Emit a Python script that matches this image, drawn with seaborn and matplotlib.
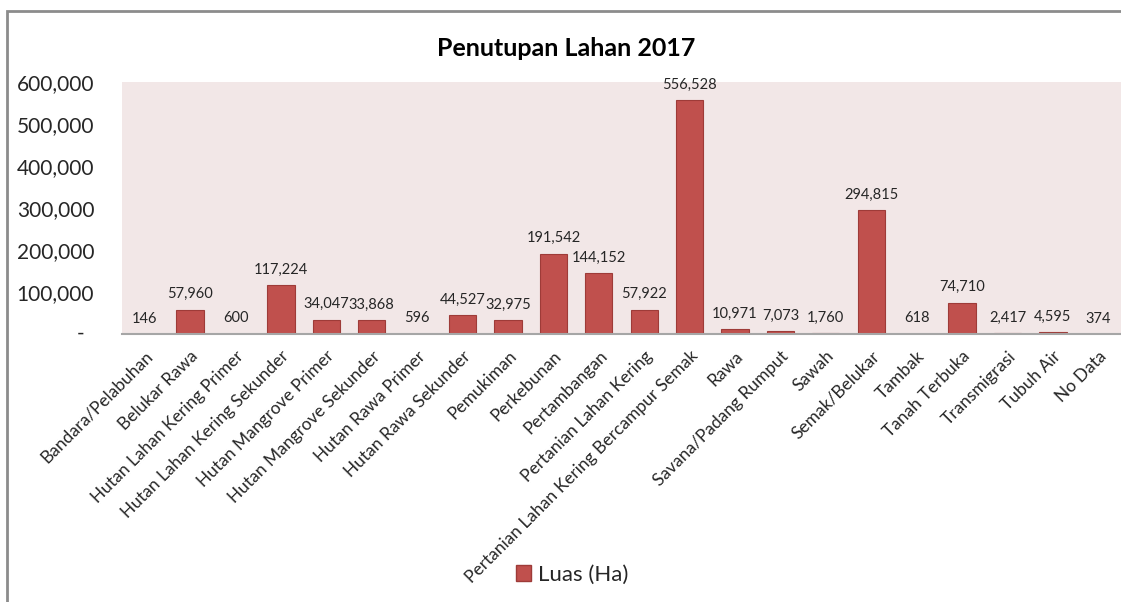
import pandas as pd
import seaborn as sns
import matplotlib.pyplot as plt
from matplotlib.patches import Patch, Rectangle
from matplotlib.ticker import FuncFormatter
from matplotlib.transforms import blended_transform_factory

sns.set_style("white")
plt.rcParams.update({
    "font.family": ["Lato", "DejaVu Sans"],
})

categories = [
    "Bandara/Pelabuhan", "Belukar Rawa", "Hutan Lahan Kering Primer",
    "Hutan Lahan Kering Sekunder", "Hutan Mangrove Primer",
    "Hutan Mangrove Sekunder", "Hutan Rawa Primer", "Hutan Rawa Sekunder",
    "Pemukiman", "Perkebunan", "Pertambangan", "Pertanian Lahan Kering",
    "Pertanian Lahan Kering Bercampur Semak", "Rawa", "Savana/Padang Rumput",
    "Sawah", "Semak/Belukar", "Tambak", "Tanah Terbuka", "Transmigrasi",
    "Tubuh Air", "No Data",
]
luas = [
    146, 57960, 600, 117224, 34047, 33868, 596, 44527, 32975, 191542,
    144152, 57922, 556528, 10971, 7073, 1760, 294815, 618, 74710, 2417,
    4595, 374,
]
series_name = "Luas (Ha)"
title = "Penutupan Lahan 2017"
yticks = [0, 100000, 200000, 300000, 400000, 500000, 600000]

df = pd.DataFrame({"Kategori": categories, series_name: luas})

bar_color = "#C0504D"
W, H = 1121, 602
fig = plt.figure(figsize=(W / 100, H / 100), dpi=100)
ax = fig.add_axes([122 / W, 1 - 334 / H, (W - 122) / W, (334 - 82) / H])
ax.set_facecolor("#F2E7E7")

sns.barplot(data=df, x="Kategori", y=series_name, ax=ax, color=bar_color,
            width=0.6, edgecolor="#9E3B38", linewidth=0.8, saturation=1)

ax.bar_label(ax.containers[0], labels=[f"{v:,}" for v in luas],
             padding=6, fontsize=10.5, color="#262626")

ax.set_ylim(0, 600000)
ax.set_xlim(-0.5, len(categories) - 0.5)
ax.set_yticks(yticks)
# accounting style: zero shown as a dash, a bit left of the numbers
ax.yaxis.set_major_formatter(FuncFormatter(lambda v, p: "" if v == 0 else f"{v:,.0f}"))
ax.text(81 / W, 0, "-", transform=blended_transform_factory(fig.transFigure, ax.transData),
        ha="center", va="center", fontsize=15, color="#262626")
ax.tick_params(axis="y", length=0, labelsize=15, pad=20, colors="#262626")
ax.tick_params(axis="x", length=0, labelsize=12.5, pad=10, colors="#262626")
plt.setp(ax.get_xticklabels(), rotation=45, ha="right", rotation_mode="anchor")
ax.set_xlabel("")
ax.set_ylabel("")

for s in ["top", "right", "left"]:
    ax.spines[s].set_visible(False)
ax.spines["bottom"].set_color("#A6A6A6")
ax.spines["bottom"].set_linewidth(1.5)

fig.text(566 / W, 1 - 48 / H, title, ha="center", va="center",
         fontsize=18, fontweight="bold", color="black")

handle = Patch(facecolor=bar_color, edgecolor="#9E3B38", label=series_name)
fig.legend(handles=[handle], loc="center", bbox_to_anchor=(572 / W, 1 - 575 / H),
           frameon=False, fontsize=16, handlelength=0.7, handleheight=0.7,
           handletextpad=0.3)

fig.add_artist(Rectangle((7 / W, -0.1), 1.2, 1.1 - 11 / H, transform=fig.transFigure,
                         fill=False, edgecolor="#8C8C8C", linewidth=2))

plt.savefig("out.png", dpi=100)
